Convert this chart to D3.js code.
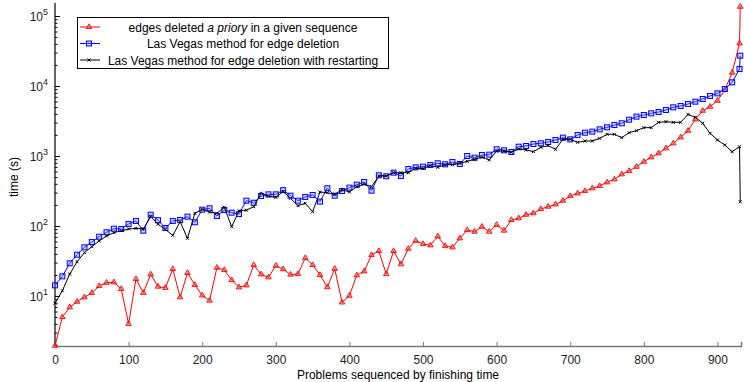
<!DOCTYPE html>
<html>
<head>
<meta charset="utf-8">
<script src="https://cdn.jsdelivr.net/npm/d3@7"></script>
<style>
  body { margin: 0; background: #fff; }
  text { font-family: "Liberation Sans", Arial, Helvetica, sans-serif; }
</style>
</head>
<body>
<div id="chart"></div>
<script>
// problem index: every 10th problem, plus the very last one
const problems = d3.range(0, 940, 10).concat([931]);

const aPriory = [1.95, 5.0, 6.9, 8.3, 9.6, 11.1, 13.9, 15.5, 15.7, 12.6, 4.0, 17.5, 11.1, 20.4, 13.6, 13.1,
  24.3, 9.6, 21.4, 14.4, 10.2, 8.6, 25.4, 23.5, 16.9, 13.3, 14.2, 27.7, 20.4, 18.5, 27.1, 24.2, 20.2, 20.6,
  34.9, 27.7, 20, 13.4, 24.5, 8.1, 10.1, 19.8, 22.5, 38.5, 44, 20.6, 44, 28.5, 47.4, 61.6, 55.3, 53, 71.3,
  51.8, 49.6, 66.8, 87.7, 82.9, 97.8, 83, 104, 86, 122, 129, 145, 152, 175, 189, 204, 230, 268, 293, 316,
  346, 373, 421, 464, 548, 611, 703, 829, 958, 1094, 1289, 1518, 1849, 2299, 3342, 4436, 5058, 6166, 8770,
  15500, 40700, 135800];

const lasVegas = [14.2, 19.1, 29.3, 38.9, 49.6, 59, 70.3, 81.3, 91.6, 90.6, 107, 118, 85.7, 145, 121, 93.6,
  118, 122, 136, 113, 171, 179, 139, 169, 155, 148, 230, 215, 268, 283, 283, 325, 271, 230, 260, 277, 223,
  346, 271, 316, 353, 389, 425, 320, 530, 513, 578, 518, 652, 689, 704, 744, 786, 760, 821, 769, 1000, 946,
  1033, 1045, 1248, 1205, 1140, 1358, 1389, 1484, 1518, 1585, 1693, 1828, 1730, 1995, 2153, 2228, 2404,
  2570, 2773, 2931, 3300, 3650, 3850, 4070, 4250, 4540, 4960, 5180, 5530, 5970, 6520, 7200, 7850, 9060,
  11270, 17500, 27100];

const lasVegasRestart = [7.9, 11.9, 20.6, 30.9, 41.6, 50.7, 61, 72, 80.3, 85.7, 90.6, 92.6, 90.6, 136, 106,
  89, 73.6, 115, 66.7, 152, 173, 158, 152, 185, 97.8, 165, 168, 189, 293, 266, 257, 311, 248, 195, 211, 160,
  306, 299, 283, 330, 306, 365, 394, 365, 518, 518, 578, 578, 578, 667, 662, 728, 689, 751, 751, 786, 840,
  896, 958, 877, 1178, 1178, 1130, 1259, 1219, 1153, 1330, 1406, 1245, 1730, 1730, 1567, 1638, 1638, 1787,
  2040, 2040, 1828, 2153, 2300, 2541, 2541, 3027, 3090, 3027, 3027, 3935, 3565, 2930, 2110, 1693, 1436,
  1153, 1358, 222];

const xTicks = d3.range(0, 1000, 100);
const yMajor = [1e1, 1e2, 1e3, 1e4, 1e5];

const width = 744, height = 382;
const margin = { left: 55, right: 3, top: 5, bottom: 36 };

const svg = d3.select('#chart')
  .append('svg')
  .attr('width', width)
  .attr('height', height);

const x = d3.scaleLinear()
  .domain([0, 932])
  .range([margin.left, width - margin.right]);

const y = d3.scaleLog()
  .domain([Math.pow(10, 0.2857), Math.pow(10, 5.157)])
  .range([height - margin.bottom, margin.top]);

// Bottom axis (grey, ticks pointing inward)
const xAxis = svg.append('g')
  .attr('transform', `translate(0,${height - margin.bottom})`)
  .call(d3.axisBottom(x).tickValues(xTicks).tickSize(-4).tickPadding(9).tickFormat(d3.format('d')));
xAxis.select('.domain').attr('stroke', '#777').attr('stroke-width', 1.5);
xAxis.selectAll('.tick line').attr('stroke', '#777');
xAxis.selectAll('.tick text').style('font-size', '12px').attr('fill', '#222');

// Left axis with log minor ticks
const minor = [];
for (let e = 0; e <= 5; e++) {
  for (let m = 2; m <= 9; m++) {
    const v = m * Math.pow(10, e);
    if (v >= y.domain()[0] && v <= y.domain()[1]) minor.push(v);
  }
}
const yAxisG = svg.append('g').attr('transform', `translate(${margin.left},0)`);
yAxisG.call(d3.axisLeft(y).tickValues(minor).tickSize(-2.5).tickFormat(''));
yAxisG.select('.domain').remove();
const yMajorG = svg.append('g').attr('transform', `translate(${margin.left},0)`)
  .call(d3.axisLeft(y).tickValues(yMajor).tickSize(-5).tickFormat(''));
yMajorG.select('.domain').remove();
svg.append('line')
  .attr('x1', margin.left).attr('x2', margin.left)
  .attr('y1', margin.top - 2).attr('y2', height - margin.bottom)
  .attr('stroke', '#000').attr('stroke-width', 1.2);

// y tick labels as 10^n
const yLabels = svg.append('g');
yMajor.forEach(v => {
  const t = yLabels.append('text')
    .attr('x', 48)
    .attr('y', y(v) + 5)
    .attr('text-anchor', 'end')
    .style('font-size', '12px')
    .attr('fill', '#222');
  t.append('tspan').text('10');
  t.append('tspan')
    .attr('dy', -6)
    .style('font-size', '9px')
    .text(Math.round(Math.log10(v)));
});

// Axis titles
svg.append('text')
  .attr('x', (margin.left + width - margin.right) / 2)
  .attr('y', 378.5)
  .attr('text-anchor', 'middle')
  .style('font-size', '12px')
  .text('Problems sequenced by finishing time');

svg.append('text')
  .attr('transform', `translate(18,177) rotate(-90)`)
  .attr('text-anchor', 'middle')
  .style('font-size', '12px')
  .text('time (s)');

// Series
const series = [
  { values: aPriory, color: '#ff0000', marker: 'triangle' },
  { values: lasVegas, color: '#0000ff', marker: 'square' },
  { values: lasVegasRestart, color: '#000000', marker: 'cross' }
];

const line = d3.line()
  .x(d => x(d[0]))
  .y(d => y(d[1]));

function drawMarker(g, kind, color) {
  if (kind === 'triangle') {
    g.append('path')
      .attr('d', d3.symbol(d3.symbolTriangle, 13)())
      .attr('fill', 'rgba(255,80,80,0.5)')
      .attr('stroke', color)
      .attr('stroke-width', 0.9);
  } else if (kind === 'square') {
    g.append('rect')
      .attr('x', -2.5).attr('y', -2.5)
      .attr('width', 5).attr('height', 5)
      .attr('fill', 'rgba(120,140,255,0.35)')
      .attr('stroke', color)
      .attr('stroke-width', 1);
  } else {
    g.append('path')
      .attr('d', 'M-1.5,-1.5L1.5,1.5M-1.5,1.5L1.5,-1.5')
      .attr('stroke', color)
      .attr('stroke-width', 1);
  }
}

series.forEach(s => {
  const pts = problems.map((p, i) => [p, s.values[i]]);
  const g = svg.append('g');
  g.append('path')
    .datum(pts)
    .attr('fill', 'none')
    .attr('stroke', s.color)
    .attr('stroke-width', 1)
    .attr('d', line);
  g.selectAll('g.pt')
    .data(pts)
    .enter()
    .append('g')
    .attr('class', 'pt')
    .attr('transform', d => `translate(${x(d[0])},${y(d[1])})`)
    .each(function () { drawMarker(d3.select(this), s.marker, s.color); });
});

// Legend
const legend = svg.append('g');
legend.append('rect')
  .attr('x', 77.5).attr('y', 17.5)
  .attr('width', 311).attr('height', 51)
  .attr('fill', '#fff')
  .attr('stroke', '#000')
  .attr('stroke-width', 1);

const legendRows = [
  { parts: [['edges deleted ', false], ['a priory', true], [' in a given sequence', false]] },
  { parts: [['Las Vegas method for edge deletion', false]] },
  { parts: [['Las Vegas method for edge deletion with restarting', false]] }
];

legendRows.forEach((row, i) => {
  const ly = 27 + i * 16.5;
  const s = series[i];
  legend.append('line')
    .attr('x1', 80).attr('x2', 100)
    .attr('y1', ly).attr('y2', ly)
    .attr('stroke', s.color).attr('stroke-width', 1);
  drawMarker(legend.append('g').attr('transform', `translate(89,${ly})`), s.marker, s.color);
  const t = legend.append('text')
    .attr('x', 243)
    .attr('y', ly + 4.5)
    .attr('text-anchor', 'middle')
    .style('font-size', '12px');
  row.parts.forEach(p => {
    t.append('tspan').style('font-style', p[1] ? 'italic' : 'normal').text(p[0]);
  });
});
</script>
</body>
</html>
